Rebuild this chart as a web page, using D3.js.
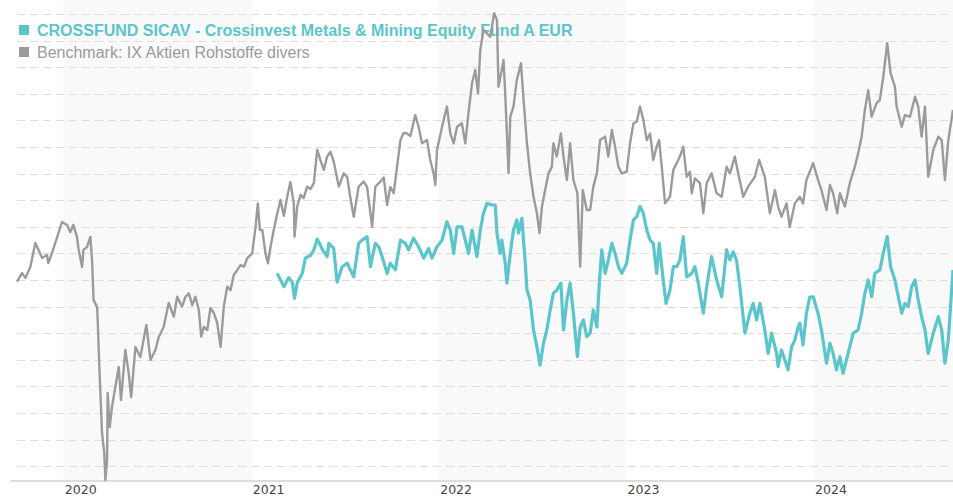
<!DOCTYPE html>
<html>
<head>
<meta charset="utf-8">
<script src="https://cdn.jsdelivr.net/npm/d3@7"></script>
<style>
  body { margin: 0; background: #fff; }
  svg { display: block; }
</style>
</head>
<body>
<div id="container"></div>
<script>
// performance chart: fund vs benchmark, indexed values (no y labels shown)

// [decimal year, value]
const benchmark = [
  [2019.753,69.4],[2019.780,72.6],[2019.798,70.8],[2019.824,74.9],[2019.851,83.9],[2019.887,78.3],[2019.913,79.4],[2019.920,76.4],
  [2019.940,80.2],[2019.966,85.8],[2019.993,91.8],[2020.020,90.7],[2020.037,88.0],[2020.053,90.7],[2020.073,86.2],[2020.080,82.0],
  [2020.100,74.9],[2020.107,81.3],[2020.126,82.4],[2020.144,86.2],[2020.153,77.5],[2020.161,62.5],[2020.180,59.8],[2020.183,55.0],
  [2020.193,35.0],[2020.206,12.5],[2020.218,5.0],[2020.224,-5.2],[2020.233,2.3],[2020.236,27.5],[2020.247,14.7],[2020.259,22.3],
  [2020.277,29.8],[2020.295,37.3],[2020.307,24.9],[2020.330,43.7],[2020.348,35.0],[2020.361,26.0],[2020.384,44.8],[2020.410,41.1],
  [2020.442,53.1],[2020.464,39.9],[2020.490,43.7],[2020.508,48.6],[2020.534,52.3],[2020.561,61.4],[2020.588,56.2],[2020.606,63.7],
  [2020.632,60.0],[2020.650,63.7],[2020.668,65.0],[2020.686,60.6],[2020.703,63.7],[2020.721,58.7],[2020.734,48.7],[2020.748,52.4],
  [2020.766,51.2],[2020.783,59.5],[2020.801,57.6],[2020.819,53.8],[2020.837,44.9],[2020.854,60.0],[2020.872,67.5],[2020.890,66.2],
  [2020.907,71.9],[2020.926,73.8],[2020.943,75.6],[2020.961,75.0],[2020.979,78.2],[2021.005,80.0],[2021.023,90.0],[2021.035,98.8],
  [2021.046,88.8],[2021.059,88.8],[2021.076,80.0],[2021.089,76.3],[2021.103,82.5],[2021.120,88.8],[2021.139,95.1],[2021.156,100.1],
  [2021.174,94.1],[2021.192,101.3],[2021.209,106.8],[2021.227,98.8],[2021.231,86.3],[2021.245,97.6],[2021.263,102.0],[2021.280,100.8],
  [2021.298,105.1],[2021.316,104.2],[2021.334,106.4],[2021.352,118.9],[2021.369,115.1],[2021.387,111.4],[2021.405,116.4],[2021.423,118.2],
  [2021.440,114.5],[2021.467,105.1],[2021.493,110.1],[2021.512,108.7],[2021.529,100.8],[2021.547,93.8],[2021.573,105.1],[2021.600,107.0],
  [2021.618,105.0],[2021.645,90.0],[2021.662,105.1],[2021.689,107.0],[2021.707,108.5],[2021.725,98.2],[2021.742,105.0],[2021.760,102.6],
  [2021.778,112.6],[2021.796,122.6],[2021.813,125.3],[2021.831,125.1],[2021.849,124.1],[2021.875,132.0],[2021.893,127.6],[2021.911,121.4],
  [2021.938,122.6],[2021.955,115.1],[2021.973,110.1],[2021.982,105.7],[2021.991,118.9],[2022.018,127.6],[2022.044,135.2],[2022.062,125.1],
  [2022.080,121.4],[2022.098,127.6],[2022.124,128.9],[2022.142,121.4],[2022.159,132.7],[2022.178,144.0],[2022.195,149.0],[2022.210,140.2],
  [2022.222,156.5],[2022.239,164.0],[2022.258,162.7],[2022.275,161.4],[2022.296,170.3],[2022.311,167.7],[2022.319,142.7],[2022.337,149.0],
  [2022.346,152.7],[2022.355,140.2],[2022.364,125.1],[2022.373,110.1],[2022.382,131.4],[2022.399,135.2],[2022.417,145.2],[2022.439,151.5],
  [2022.453,137.7],[2022.471,121.4],[2022.488,110.1],[2022.506,101.3],[2022.524,95.1],[2022.538,87.6],[2022.551,97.6],[2022.568,103.8],
  [2022.586,110.1],[2022.604,112.6],[2022.612,121.4],[2022.630,116.4],[2022.652,125.1],[2022.666,116.4],[2022.684,107.6],[2022.701,121.4],
  [2022.719,107.6],[2022.740,102.6],[2022.755,75.0],[2022.769,103.8],[2022.790,96.3],[2022.808,96.3],[2022.825,105.1],[2022.844,110.1],
  [2022.861,122.6],[2022.888,123.9],[2022.905,116.4],[2022.924,126.4],[2022.941,120.1],[2022.959,112.6],[2022.977,110.1],[2023.003,110.7],
  [2023.021,121.4],[2023.039,128.9],[2023.057,129.5],[2023.074,135.2],[2023.092,130.2],[2023.110,122.6],[2023.128,125.1],[2023.145,115.1],
  [2023.163,120.1],[2023.176,122.6],[2023.190,112.6],[2023.208,98.8],[2023.234,101.3],[2023.252,111.4],[2023.270,113.9],[2023.287,116.4],
  [2023.305,120.1],[2023.323,108.8],[2023.341,110.7],[2023.350,102.6],[2023.367,108.2],[2023.394,106.4],[2023.412,95.1],[2023.430,106.4],
  [2023.456,110.1],[2023.483,102.6],[2023.510,101.3],[2023.536,112.6],[2023.554,110.1],[2023.580,116.4],[2023.598,110.1],[2023.625,101.3],
  [2023.651,105.1],[2023.687,108.8],[2023.710,115.1],[2023.740,108.8],[2023.767,95.1],[2023.794,103.8],[2023.811,97.6],[2023.829,93.8],
  [2023.856,98.8],[2023.873,90.0],[2023.900,98.8],[2023.927,101.3],[2023.944,98.8],[2023.962,107.6],[2023.998,113.9],[2024.024,107.6],
  [2024.042,103.8],[2024.069,96.3],[2024.087,105.7],[2024.104,102.6],[2024.126,95.1],[2024.140,102.6],[2024.167,97.6],[2024.193,106.4],
  [2024.220,112.6],[2024.237,117.6],[2024.256,123.9],[2024.273,133.9],[2024.291,141.4],[2024.309,131.4],[2024.335,136.4],[2024.353,137.7],
  [2024.371,146.4],[2024.392,159.0],[2024.410,147.7],[2024.433,142.7],[2024.442,135.2],[2024.469,127.6],[2024.486,132.0],[2024.513,131.4],
  [2024.540,138.9],[2024.557,135.2],[2024.575,123.9],[2024.593,135.2],[2024.610,108.8],[2024.637,118.9],[2024.664,123.9],[2024.682,122.6],
  [2024.699,107.6],[2024.717,122.6],[2024.742,133.9]
];

const fund = [
  [2021.139,72.5],[2021.156,70.0],[2021.174,67.5],[2021.200,70.9],[2021.219,69.1],[2021.231,63.1],[2021.245,68.9],[2021.272,72.5],
  [2021.289,78.3],[2021.316,79.2],[2021.334,81.3],[2021.352,85.4],[2021.378,81.7],[2021.405,78.8],[2021.414,83.8],[2021.440,81.9],
  [2021.458,69.2],[2021.485,75.0],[2021.512,76.3],[2021.529,73.8],[2021.547,71.2],[2021.573,83.8],[2021.591,85.0],[2021.618,86.3],
  [2021.636,75.0],[2021.662,83.8],[2021.680,82.5],[2021.698,78.8],[2021.725,72.5],[2021.742,76.3],[2021.769,73.8],[2021.796,85.0],
  [2021.822,83.8],[2021.840,81.3],[2021.866,85.7],[2021.893,82.5],[2021.920,78.2],[2021.946,81.9],[2021.964,78.2],[2021.991,82.5],
  [2022.018,85.0],[2022.044,91.9],[2022.062,88.8],[2022.080,80.0],[2022.098,90.0],[2022.124,90.0],[2022.142,85.0],[2022.159,80.0],
  [2022.178,88.8],[2022.204,78.8],[2022.222,88.8],[2022.239,95.1],[2022.258,98.8],[2022.284,98.2],[2022.302,98.2],[2022.311,87.6],
  [2022.328,80.0],[2022.337,85.0],[2022.355,76.3],[2022.364,68.8],[2022.382,80.0],[2022.399,88.8],[2022.417,92.6],[2022.426,87.6],
  [2022.444,93.2],[2022.462,76.3],[2022.471,66.2],[2022.488,62.5],[2022.506,51.2],[2022.524,44.9],[2022.541,38.0],[2022.559,46.2],
  [2022.577,51.2],[2022.595,58.7],[2022.612,65.0],[2022.630,66.2],[2022.652,68.8],[2022.666,51.2],[2022.684,62.5],[2022.701,68.8],
  [2022.719,57.5],[2022.740,41.2],[2022.755,52.4],[2022.772,55.0],[2022.790,48.7],[2022.808,50.0],[2022.825,58.7],[2022.844,52.4],
  [2022.857,68.8],[2022.870,81.3],[2022.888,72.5],[2022.905,77.5],[2022.924,83.8],[2022.941,80.0],[2022.959,75.0],[2022.977,72.5],
  [2023.003,76.3],[2023.021,85.0],[2023.039,92.6],[2023.057,93.8],[2023.074,97.6],[2023.092,95.1],[2023.110,88.8],[2023.128,85.0],
  [2023.145,83.8],[2023.163,72.5],[2023.177,83.8],[2023.198,70.0],[2023.213,61.2],[2023.234,66.2],[2023.252,75.0],[2023.270,75.0],
  [2023.287,77.5],[2023.305,86.3],[2023.323,71.2],[2023.350,72.5],[2023.367,75.0],[2023.385,68.8],[2023.412,57.5],[2023.430,67.5],
  [2023.456,78.8],[2023.483,70.0],[2023.510,63.7],[2023.536,81.3],[2023.554,77.5],[2023.571,80.6],[2023.589,77.5],[2023.607,67.5],
  [2023.634,50.0],[2023.660,57.5],[2023.678,61.2],[2023.696,55.0],[2023.714,61.2],[2023.740,51.2],[2023.758,42.4],[2023.776,50.0],
  [2023.803,42.4],[2023.811,37.4],[2023.829,43.7],[2023.847,39.9],[2023.864,36.2],[2023.883,44.9],[2023.900,47.4],[2023.918,52.4],
  [2023.927,53.8],[2023.944,45.6],[2023.962,57.5],[2023.980,63.6],[2023.998,63.7],[2024.024,57.5],[2024.042,51.2],[2024.069,38.7],
  [2024.087,46.2],[2024.104,42.4],[2024.122,36.2],[2024.140,41.2],[2024.157,34.9],[2024.184,42.4],[2024.211,50.0],[2024.237,51.2],
  [2024.256,57.5],[2024.273,65.0],[2024.291,70.0],[2024.309,63.7],[2024.326,72.5],[2024.353,73.8],[2024.371,80.0],[2024.392,86.3],
  [2024.410,75.0],[2024.433,70.0],[2024.451,63.7],[2024.469,57.5],[2024.486,61.2],[2024.504,60.0],[2024.522,67.5],[2024.540,70.0],
  [2024.557,62.5],[2024.575,56.2],[2024.593,51.2],[2024.610,42.4],[2024.637,50.0],[2024.664,56.2],[2024.682,51.2],[2024.699,38.7],
  [2024.717,47.4],[2024.742,73.8]
];

const years = [2020, 2021, 2022, 2023, 2024];
const shadedYears = [2020, 2022, 2024];
const gridValues = d3.range(0, 180, 10);
const legendItems = [
  {label: "CROSSFUND SICAV - Crossinvest Metals & Mining Equity Fund A EUR", color: "#5bc5cc", bold: true},
  {label: "Benchmark: IX Aktien Rohstoffe divers", color: "#9b9b9b", bold: false}
];

const width = 953, height = 500;
const plotLeft = 17, plotRight = 953, axisY = 481;

// decimal year -> Date
function toDate(t) {
  const yr = Math.floor(t);
  const a = new Date(yr, 0, 1), b = new Date(yr + 1, 0, 1);
  return new Date(+a + (t - yr) * (b - a));
}

const svg = d3.select("#container")
  .append("svg")
    .attr("width", width)
    .attr("height", height);

const x = d3.scaleTime()
  .domain([toDate(benchmark[0][0]), toDate(benchmark[benchmark.length - 1][0])])
  .range([plotLeft, plotRight]);

const y = d3.scaleLinear()
  .domain([-10, 170])
  .range([492.8, 14]);

// alternating year bands
svg.append("g")
  .selectAll("rect")
  .data(shadedYears)
  .join("rect")
    .attr("x", d => x(new Date(d, 0, 1)))
    .attr("width", d => Math.min(x(new Date(d + 1, 0, 1)), plotRight) - x(new Date(d, 0, 1)))
    .attr("y", 0)
    .attr("height", axisY)
    .attr("fill", "#f9f9f9");

// dashed grid
svg.append("g")
  .selectAll("line")
  .data(gridValues)
  .join("line")
    .attr("x1", plotLeft)
    .attr("x2", plotRight)
    .attr("y1", d => Math.round(y(d)) + 0.5)
    .attr("y2", d => Math.round(y(d)) + 0.5)
    .attr("stroke", "#dedede")
    .attr("stroke-width", 1)
    .attr("stroke-dasharray", "8,5");

// x axis
const xAxis = svg.append("g")
  .attr("transform", `translate(0,${axisY})`)
  .call(d3.axisBottom(x)
    .tickValues(years.map(d => new Date(d, 0, 1)))
    .tickFormat(d3.timeFormat("%Y"))
    .tickSize(0));
xAxis.select(".domain").remove();
xAxis.selectAll("text")
  .attr("text-anchor", "start")
  .attr("dx", "1")
  .attr("y", 4)
  .attr("dy", "0.71em")
  .style("font-family", "'DejaVu Sans', sans-serif")
  .style("font-size", "12.5px")
  .style("fill", "#444");

svg.append("line")
  .attr("x1", 10)
  .attr("x2", plotRight)
  .attr("y1", axisY)
  .attr("y2", axisY)
  .attr("stroke", "#dddddd")
  .attr("stroke-width", 2);

// legend
const legend = svg.append("g")
  .attr("transform", "translate(19,25)");
const item = legend.selectAll("g")
  .data(legendItems)
  .join("g")
    .attr("transform", (d, i) => `translate(0,${i * 22})`);
item.append("rect")
  .attr("width", 10)
  .attr("height", 10)
  .attr("fill", d => d.color);
item.append("text")
  .attr("x", 18)
  .attr("y", 10.5)
  .text(d => d.label)
  .style("font-family", "'Liberation Sans', Arial, sans-serif")
  .style("font-size", "16px")
  .style("font-weight", d => d.bold ? "bold" : "normal")
  .style("fill", d => d.color);

const line = d3.line()
  .x(d => x(toDate(d[0])))
  .y(d => y(d[1]));

svg.append("path")
  .datum(benchmark)
  .attr("d", line)
  .attr("fill", "none")
  .attr("stroke", "#9b9b9b")
  .attr("stroke-width", 2.4)
  .attr("stroke-linejoin", "round");

svg.append("path")
  .datum(fund)
  .attr("d", line)
  .attr("fill", "none")
  .attr("stroke", "#5bc5cc")
  .attr("stroke-width", 3.2)
  .attr("stroke-linejoin", "round");
</script>
</body>
</html>
